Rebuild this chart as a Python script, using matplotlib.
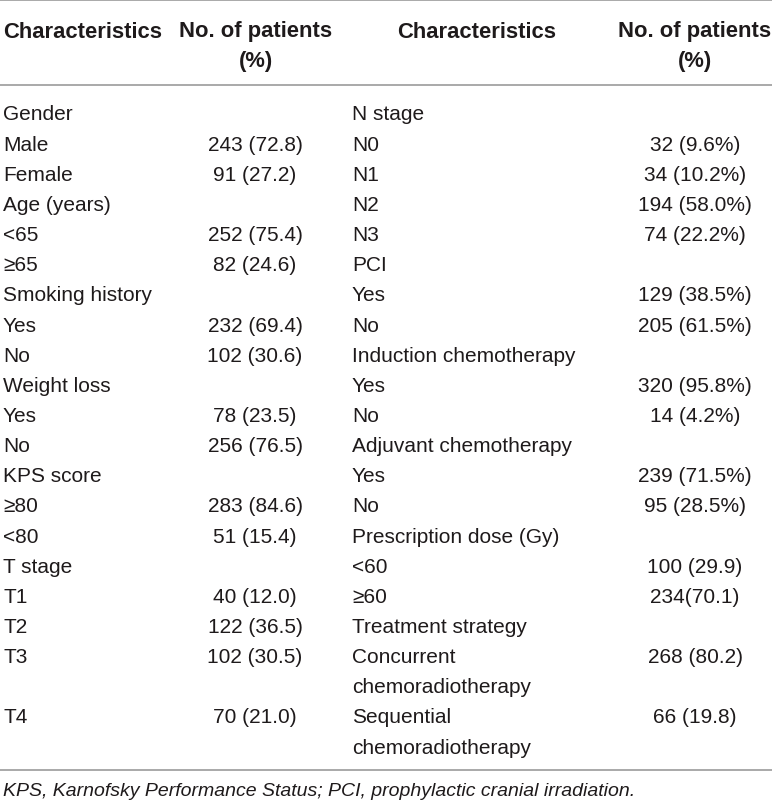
import matplotlib
matplotlib.use("Agg")
import matplotlib.pyplot as plt

plt.rcParams['font.family'] = ['Liberation Sans', 'DejaVu Sans']

# table content
headers = ["Characteristics", "No. of patients\n(%)", "Characteristics", "No. of patients\n(%)"]

left_labels = ["Gender", "Male", "Female", "Age (years)", "<65", "≥65",
               "Smoking history", "Yes", "No", "Weight loss", "Yes", "No",
               "KPS score", "≥80", "<80", "T stage", "T1", "T2", "T3", "", "T4", ""]
left_values = ["", "243 (72.8)", "91 (27.2)", "", "252 (75.4)", "82 (24.6)",
               "", "232 (69.4)", "102 (30.6)", "", "78 (23.5)", "256 (76.5)",
               "", "283 (84.6)", "51 (15.4)", "", "40 (12.0)", "122 (36.5)",
               "102 (30.5)", "", "70 (21.0)", ""]

right_labels = ["N stage", "N0", "N1", "N2", "N3", "PCI", "Yes", "No",
                "Induction chemotherapy", "Yes", "No", "Adjuvant chemotherapy",
                "Yes", "No", "Prescription dose (Gy)", "<60", "≥60",
                "Treatment strategy", "Concurrent", "chemoradiotherapy",
                "Sequential", "chemoradiotherapy"]
right_values = ["", "32 (9.6%)", "34 (10.2%)", "194 (58.0%)", "74 (22.2%)", "",
                "129 (38.5%)", "205 (61.5%)", "", "320 (95.8%)", "14 (4.2%)", "",
                "239 (71.5%)", "95 (28.5%)", "", "100 (29.9)", "234(70.1)", "",
                "268 (80.2)", "", "66 (19.8)", ""]

footnote = "KPS, Karnofsky Performance Status; PCI, prophylactic cranial irradiation."

W, H = 772, 804
fig = plt.figure(figsize=(W / 100, H / 100), dpi=100)
ax = fig.add_axes([0, 0, 1, 1])
ax.set_xlim(0, W)
ax.set_ylim(H, 0)
ax.axis('off')

body_size = 15
head_size = 15.8
note_size = 14
line_color = '#a3a3a3'
txt_color = '#1e1a1b'

# rules
for yy in [1, 86, 771]:
    ax.axhline(yy, color=line_color, lw=1.3)

# header
head_rows = [30, 59]
base_off = 7.5
hx = [(3, 'left'), (256, 'center'), (477, 'center'), (695, 'center')]
for (x, ha), h in zip(hx, headers):
    for k, part in enumerate(h.split("\n")):
        ax.text(x, head_rows[k] + base_off, part, ha=ha, va='baseline',
                fontsize=head_size, fontweight='bold', color=txt_color)

# body rows
y0, dy = 113, 30.15
for i in range(len(left_labels)):
    yb = y0 + dy * i + base_off
    ax.text(3, yb, left_labels[i], ha='left', va='baseline', fontsize=body_size, color=txt_color)
    ax.text(255, yb, left_values[i], ha='center', va='baseline', fontsize=body_size, color=txt_color)
    ax.text(352, yb, right_labels[i], ha='left', va='baseline', fontsize=body_size, color=txt_color)
    ax.text(695, yb, right_values[i], ha='center', va='baseline', fontsize=body_size, color=txt_color)

ax.text(3, 789 + 7, footnote, ha='left', va='baseline', fontsize=note_size,
        style='italic', color=txt_color)

fig.savefig("out.png", dpi=100, facecolor='white')
